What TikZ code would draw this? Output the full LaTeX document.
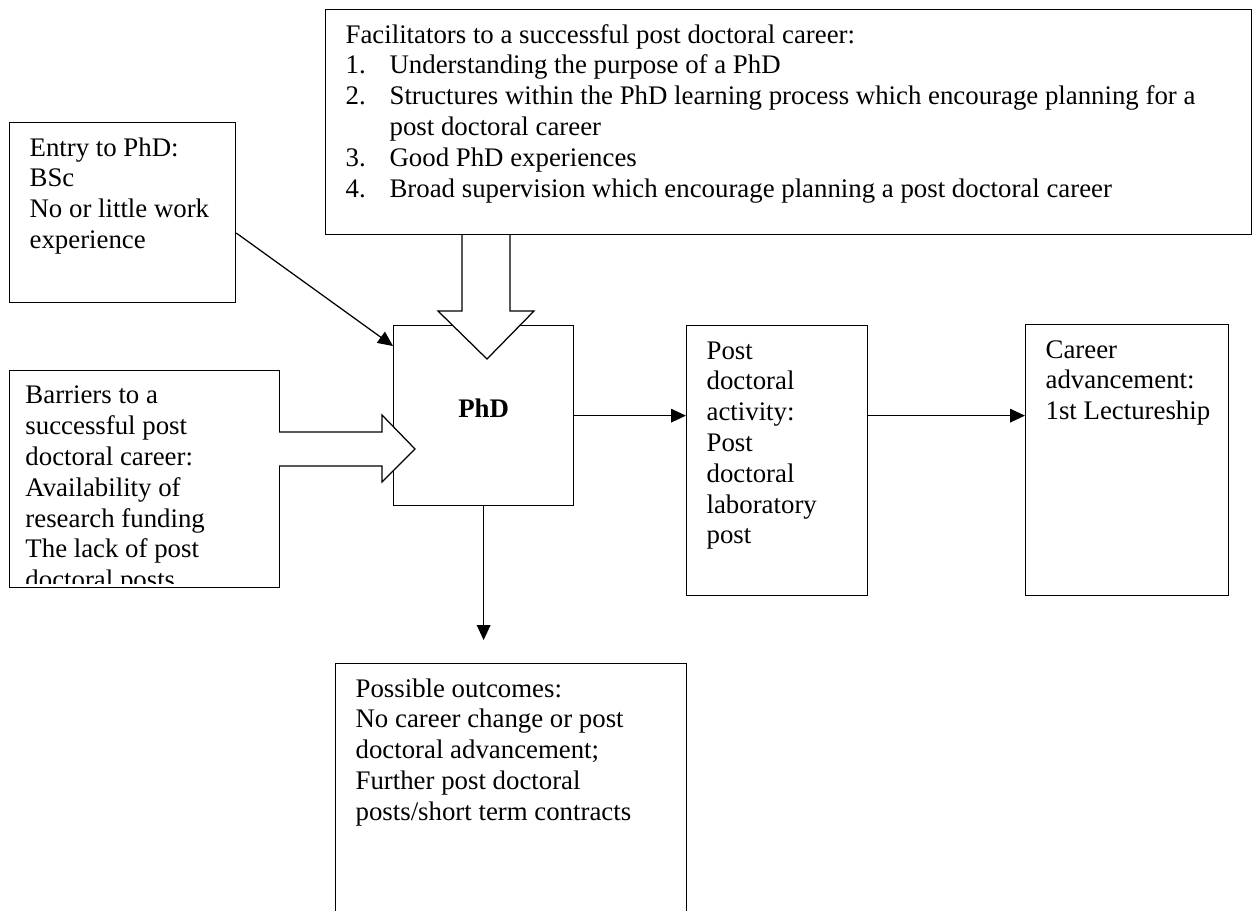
\documentclass[tikz,border=0pt]{standalone}
\usepackage{fontspec}
\setmainfont{Liberation Serif}
\usetikzlibrary{arrows.meta}
\newlength\pxu \setlength\pxu{0.44pt}
% #1 width px, #2 height px, #3 left inset px, #4 text
\newcommand\boxtxt[4]{\parbox[t][#2\pxu][t]{#1\pxu}{\fontsize{11.8}{13.55}\selectfont\raggedright\leftskip=#3\pxu\rule{0pt}{14.74pt}#4}}
\newcommand\itm[1]{\makebox[44\pxu][l]{#1}}
\tikzset{
  box/.style={draw, line width=0.55pt, inner sep=0pt, anchor=north west, fill=white},
  conn/.style={-{Triangle[length=6.6pt,width=6pt]}, line width=0.55pt},
  hollow/.style={draw, fill=white, line width=0.55pt, line join=miter},
}
\begin{document}
\begin{tikzpicture}[x=\pxu, y=-\pxu]
\fill[white] (0,0) rectangle (1257,910);
\clip (0,0) rectangle (1257,910);

% boxes
\node[box] (facil) at (325,9) {\boxtxt{926}{225}{20}{Facilitators to a successful post doctoral career:\\
\itm{1.}Understanding the purpose of a PhD\\
\itm{2.}\mbox{Structures within the PhD learning process which encourage planning for a}\\
\hspace*{44\pxu}post doctoral career\\
\itm{3.}Good PhD experiences\\
\itm{4.}Broad supervision which encourage planning a post doctoral career}};

\node[box] (entry) at (9,122) {\boxtxt{226}{180}{20}{Entry to PhD:\\BSc\\No or little work\\experience}};

\node[box, minimum width=270\pxu, minimum height=217\pxu] (bar) at (9,370) {};
\begin{scope}
\clip (9,370) rectangle (279,583);
\node[inner sep=0pt, anchor=north west] (bartxt) at (bar.north west) {\boxtxt{270}{217}{16}{Barriers to a\\successful post\\doctoral career:\\Availability of\\research funding\\The lack of post\\doctoral posts}};
\end{scope}

\node[box, minimum width=180\pxu, minimum height=180\pxu, text height=8pt, text depth=6.2pt, font=\fontsize{11.8}{13.55}\selectfont\bfseries] (phd) at (393,325) {PhD};

\node[box] (post) at (686,325) {\boxtxt{181}{270}{20}{Post\\doctoral\\activity:\\Post\\doctoral\\laboratory\\post}};

\node[box] (career) at (1025,324) {\boxtxt{203}{271}{20}{Career\\advancement:\\1st Lectureship}};

\node[box] (out) at (335,663) {\boxtxt{351}{262}{20}{Possible outcomes:\\No career change or post\\doctoral advancement;\\Further post doctoral\\posts/short term contracts}};

% connectors
\coordinate (e1) at (0,233);
\coordinate (e2) at (0,346);
\draw[conn] (entry.east |- e1) -- (phd.west |- e2);
\draw[conn] (phd.east) -- (phd.east -| post.west);
\draw[conn] (post.east |- phd.east) -- (phd.east -| career.west);
\draw[conn, shorten >=10.1pt] (phd.south) -- (phd.south |- out.north);

% hollow block arrows
\path[hollow] (462,235) -- (462,311) -- (438,311) -- (487,359) -- (534,311) -- (510,311) -- (510,235);
\path[hollow] (279,432) -- (382,432) -- (382,415) -- (415,449) -- (382,482) -- (382,466) -- (279,466);
\end{tikzpicture}
\end{document}
